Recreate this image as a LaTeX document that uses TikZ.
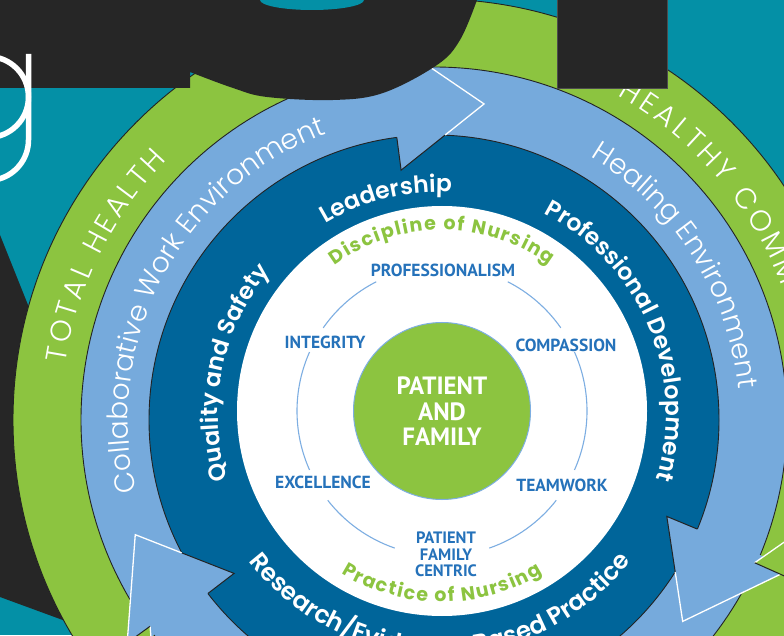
\documentclass[tikz,border=0pt]{standalone}
\usepackage{fontspec}
\setmainfont{PT Sans}
\newfontfamily\popp{Poppins}
\IfFontExistsTF{Poppins Light}{\newfontfamily\poppl{Poppins Light}}{\newfontfamily\poppl{Poppins}}
\IfFontExistsTF{Poppins SemiBold}{\newfontfamily\poppsb{Poppins SemiBold}\newcommand\sbsel{\poppsb}}{\newcommand\sbsel{\popp\bfseries}}
\usetikzlibrary{decorations.text,calc}
\definecolor{tealbg}{RGB}{4,144,166}
\definecolor{blk}{RGB}{38,38,38}
\definecolor{grn}{RGB}{140,196,64}
\definecolor{lblue}{RGB}{118,170,220}
\definecolor{dblue}{RGB}{0,101,154}
\definecolor{valblue}{RGB}{37,114,186}
\definecolor{arcblue}{RGB}{125,174,226}
\definecolor{outl}{RGB}{35,35,35}
\newcommand\ringbold{\sbsel\fontsize{23.5}{23.5}\selectfont}
\newcommand\ringboldL{\sbsel\fontsize{24.5}{24.5}\selectfont}
\newcommand\ringlight{\poppl\fontsize{28}{28}\selectfont}
\newcommand\ringcaps{\poppl\fontsize{29}{29}\selectfont}
\newcommand\nursefont{\popp\bfseries\fontsize{19}{19}\selectfont}
\begin{document}
\begin{tikzpicture}[x=1pt,y=1pt,
  valnode/.style={font=\bfseries\fontsize{17.5}{17.5}\selectfont, text=valblue, inner sep=0pt},
  ringline/.style={draw=outl, line width=0.9pt}]
\useasboundingbox (0,0) rectangle (784,635);
\clip (0,0) rectangle (784,635);
\fill[tealbg] (0,0) rectangle (784,635);
\coordinate (O) at (434,215);
\coordinate (C) at (442,224);
\coordinate (D) at (440,221);
% left black letter leg
\fill[blk] (0,400) -- (28,330) -- (120,100) -- (150,-17) -- (0,38) -- cycle;
% rings
\filldraw[fill=grn, ringline] (O) circle (421);
\filldraw[fill=lblue, ringline] (O) circle (353);
\filldraw[fill=dblue, ringline] (O) circle (285);
\fill[white] (C) circle (205);
% arrowheads of the light blue ring (clockwise)
\foreach \r in {0,-120,120}{
  \begin{scope}[shift={(O)},rotate=\r]
    \fill[lblue] (97.5:252) -- (81:320) -- (97.5:388) -- cycle;
    \draw[white,line width=1.3pt] (97.5:388) -- (81:320) -- ($(81:320)!0.47!(97.5:252)$);
    \draw[outl,line width=1pt] ($(81:320)!0.47!(97.5:252)$) -- (97.5:252) -- (97.5:285);
  \end{scope}
}
% arrowheads of the green ring (counter-clockwise)
\foreach \r in {0,-120,120}{
  \begin{scope}[shift={(O)},rotate=\r]
    \fill[grn] (96:351) -- (107:405) -- (96:459) -- cycle;
    \draw[white,line width=1.3pt] (96:351) -- (107:405) -- (96:459);
    \draw[outl,line width=1pt] (96:351) -- (96:459);
  \end{scope}
}
% thin arcs
\foreach \a/\b in {35/63,117/145,156/204,218/251,289/322,-24/24}{
  \draw[arcblue,line width=1.1pt] ($(C)+(\a:145)$) arc[start angle=\a,end angle=\b,radius=145];
}
% centre
\filldraw[fill=grn, draw=arcblue, line width=1pt] (C) circle (88.5);
\node[name=pf, align=center, text=white, font=\bfseries\fontsize{25}{25.5}\selectfont] at (442,223.5) {PATIENT\\AND\\FAMILY};
% values
\node[valnode] (v1) at (443,364.5) {PROFESSIONALISM};
\node[valnode] (v2) at (325,292.5) {INTEGRITY};
\node[valnode] (v3) at (566,290) {COMPASSION};
\node[valnode] (v4) at (323,152.5) {EXCELLENCE};
\node[valnode] (v5) at (562,150) {TEAMWORK};
\node[valnode, align=center, font=\bfseries\fontsize{16.5}{16.5}\selectfont] (v6) at (446,80.5) {PATIENT\\FAMILY\\CENTRIC};
% nursing texts
\path[decorate, decoration={text along path, text align=center, text color=grn,
  text={|\nursefont|D{\kern1.5pt}i{\kern1.5pt}s{\kern1.5pt}c{\kern1.5pt}i{\kern1.5pt}p{\kern1.5pt}l{\kern1.5pt}i{\kern1.5pt}n{\kern1.5pt}e{\kern1.5pt} {\kern1.5pt}o{\kern1.5pt}f{\kern1.5pt} {\kern1.5pt}N{\kern1.5pt}u{\kern1.5pt}r{\kern1.5pt}s{\kern1.5pt}i{\kern1.5pt}n{\kern1.5pt}g}}]
  ($(C)+(140:181)$) arc[start angle=140,end angle=40,radius=181];
\path[decorate, decoration={text along path, text align=center, text color=grn,
  text={|\nursefont|P{\kern1.5pt}r{\kern1.5pt}a{\kern1.5pt}c{\kern1.5pt}t{\kern1.5pt}i{\kern1.5pt}c{\kern1.5pt}e{\kern1.5pt} {\kern1.5pt}o{\kern1.5pt}f{\kern1.5pt} {\kern1.5pt}N{\kern1.5pt}u{\kern1.5pt}r{\kern1.5pt}s{\kern1.5pt}i{\kern1.5pt}n{\kern1.5pt}g}}]
  ($(C)+(220:191)$) arc[start angle=220,end angle=320,radius=191];
% dark blue ring texts
\path[decorate, decoration={text along path, text align=center, text color=white, text={|\ringbold|Leadership}}]
  ($(D)+(140:222)$) arc[start angle=140,end angle=68,radius=222];
\path[decorate, decoration={text along path, text align=center, text color=white, text={|\ringbold|Professional Development}}]
  ($(D)+(78:226)$) arc[start angle=78,end angle=-32,radius=226];
\path[decorate, decoration={text along path, text align=center, text color=white, text={|\ringbold|Quality and Safety}}]
  ($(D)+(220:222)$) arc[start angle=220,end angle=117,radius=222];
\path[decorate, decoration={text along path, text align=center, text color=white, text={|\ringboldL|Research/Evidence-Based Practice}}]
  ($(D)+(195:241)$) arc[start angle=195,end angle=345,radius=241];
% light blue ring texts
\path[decorate, decoration={text along path, text align=center, text color=white, text={|\ringlight|Collaborative Work Environment}}]
  ($(O)+(210:306)$) arc[start angle=210,end angle=94,radius=306];
\path[decorate, decoration={text along path, text align=center, text color=white, text={|\ringlight|Healing Environment}}]
  ($(O)+(82:306)$) arc[start angle=82,end angle=-17,radius=306];
% green ring texts
\path[decorate, decoration={text along path, text align=center, text color=white,
  text={|\ringcaps|T{\kern3.5pt}O{\kern3.5pt}T{\kern3.5pt}A{\kern3.5pt}L{\kern3.5pt} {\kern3.5pt}H{\kern3.5pt}E{\kern3.5pt}A{\kern3.5pt}L{\kern3.5pt}T{\kern3.5pt}H}}]
  ($(O)+(185:373)$) arc[start angle=185,end angle=122,radius=373];
\path[decorate, decoration={text along path, text align=left, text color=white,
  text={|\ringcaps|H{\kern3.5pt}E{\kern3.5pt}A{\kern3.5pt}L{\kern3.5pt}T{\kern3.5pt}H{\kern3.5pt}Y{\kern3.5pt} {\kern3.5pt}C{\kern3.5pt}O{\kern3.5pt}M{\kern3.5pt}M}}]
  ($(O)+(60.5:373)$) arc[start angle=60.5,end angle=-5,radius=373];
% big black letters on top
\fill[blk] (0,635) -- (0,547) -- (190,547) -- (190,563) -- plot[smooth, tension=0.6] coordinates {(190,563) (233,547) (267,538) (333,535) (383,542) (437,570) (460,595) (477,635)} -- cycle;
\fill[tealbg] (312,635) ellipse [x radius=52, y radius=10];
\filldraw[fill=blk, draw=gray!60!black, line width=0.6pt] (557,547) rectangle (667,640);
% white outlined letter g
\draw[white, line width=5.5pt] (-12,538) circle (40.5);
\draw[white, line width=5.5pt] (28.5,581) -- (28.5,495) arc[start angle=0,end angle=-80,radius=40.5];
\end{tikzpicture}
\end{document}
